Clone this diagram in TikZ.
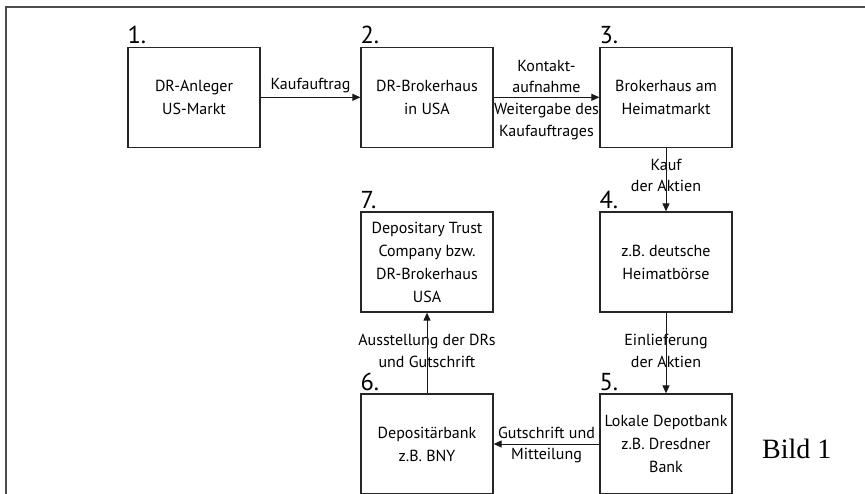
\documentclass[tikz,border=0pt]{standalone}
\usepackage{fontspec}
\setmainfont{PT Sans}
\newfontfamily\captionserif{Liberation Serif}
\usetikzlibrary{arrows.meta,calc}
\begin{document}
\begin{tikzpicture}[x=1pt,y=-1pt,
  stage/.style={draw=black!85, line width=1.3pt, minimum width=132pt,
    minimum height=100pt, inner sep=0pt, align=center,
    font=\fontsize{16}{23}\selectfont},
  num/.style={anchor=base west, inner sep=0pt, font=\fontsize{24.5}{24.5}\selectfont},
  flow/.style={draw=black!90, line width=1pt, -{Triangle[length=8pt,width=7pt]}},
  lbl/.style={align=center, inner sep=0pt, font=\fontsize{16}{21.5}\selectfont}]
\useasboundingbox (0,0) rectangle (865,493);
\begin{scope}
\clip (0,0) rectangle (865,493);
% page frame
\draw[black!70, line width=2pt] (6,500) |- (870,7);

% process stages
\node[stage] (b1) at (194,97.3) {DR-Anleger\\US-Markt};
\node[stage] (b2) at (427,97.3) {DR-Brokerhaus\\in USA};
\node[stage] (b3) at (666,97.3) {Brokerhaus am\\Heimatmarkt};
\node[stage] (b4) at (666,262) {z.B. deutsche\\Heimatbörse};
\node[stage] (b7) at (427,262) {Depositary Trust\\Company bzw.\\DR-Brokerhaus\\USA};
\node[stage] (b6) at (427,444) {Depositärbank\\z.B. BNY};
\node[stage] (b5) at (666,444) {Lokale Depotbank\\z.B. Dresdner\\Bank};

% step numbers
\node[num] (n1) at ([yshift=3pt]b1.north west) {1.};
\node[num] (n2) at ([yshift=3pt]b2.north west) {2.};
\node[num] (n3) at ([yshift=3pt]b3.north west) {3.};
\node[num] (n4) at ([yshift=3pt]b4.north west) {4.};
\node[num] (n7) at ([yshift=3pt]b7.north west) {7.};
\node[num] (n6) at ([yshift=3pt]b6.north west) {6.};
\node[num] (n5) at ([yshift=3pt]b5.north west) {5.};

% flow labels
\node[lbl, anchor=south] (l12) at ([yshift=4pt]$(b1.east)!0.5!(b2.west)$) {Kaufauftrag};
\node[lbl, anchor=south] (l23a) at ([yshift=4pt]$(b2.east)!0.5!(b3.west)$) {Kontakt-\\aufnahme};
\node[lbl, anchor=north] (l23b) at ([yshift=-6pt]$(b2.east)!0.5!(b3.west)$) {Weitergabe des\\Kaufauftrages};
\node[lbl] (l34) at ([yshift=4pt]$(b3.south)!0.5!(b4.north)$) {Kauf\\der Aktien};
\node[lbl] (l45) at ([yshift=2pt]$(b4.south)!0.5!(b5.north)$) {Einlieferung\\der Aktien};
\node[lbl] (l67) at ([yshift=2pt]$(b6.north)!0.5!(b7.south)$) {Ausstellung der DRs\\und Gutschrift};
\node[lbl] (l56) at ([yshift=-1pt]$(b5.west)!0.5!(b6.east)$) {Gutschrift und\\Mitteilung};

% flows
\draw[flow] (b1) -- (b2);
\draw[flow] (b2) -- (b3);
\draw[flow] (b3) -- (b4);
\draw[flow] (b4) -- (b5);
\draw[flow] (b5) -- (b6);
\draw[flow] (b6) -- (b7);

% figure caption
\node[anchor=base west, inner sep=0pt, font=\captionserif\fontsize{28}{28}\selectfont] (cap) at (762,458) {Bild 1};
\end{scope}
\end{tikzpicture}
\end{document}
